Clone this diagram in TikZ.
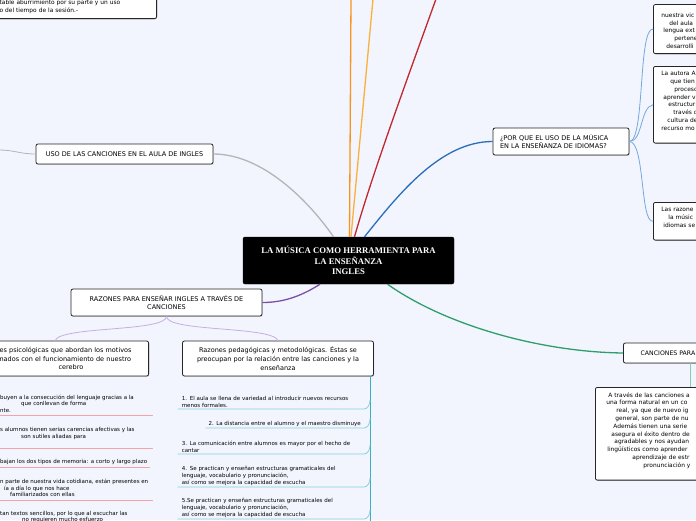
\documentclass[tikz,border=0pt]{standalone}
\usepackage{fontspec}
\setmainfont{DejaVu Sans}
\newfontfamily\titlefont{Liberation Serif}
\usetikzlibrary{positioning,shadows}

\definecolor{bgblue}{HTML}{F2F5FE}
\definecolor{lineorange}{HTML}{F7941D}
\definecolor{lineyellow}{HTML}{FBB03B}
\definecolor{linered}{HTML}{C1272D}
\definecolor{lineblue}{HTML}{2A6EBB}
\definecolor{branchblue}{HTML}{74A7DE}
\definecolor{linegray}{HTML}{B5B5B5}
\definecolor{linepurple}{HTML}{7B4FA6}
\definecolor{branchpurple}{HTML}{C7AEE0}
\definecolor{linegreen}{HTML}{2E9E6B}
\definecolor{branchgreen}{HTML}{86CDB0}
\definecolor{lineteal}{HTML}{3AAFBF}
\definecolor{branchteal}{HTML}{86D2DC}
\definecolor{linepink}{HTML}{F4A3A8}

\newcommand{\ind}[1]{\makebox[#1]{}}

\tikzset{
  root/.style={fill=black, draw=black, rounded corners=2pt, text=white, align=center,
    minimum width=211pt, minimum height=47pt,
    font=\titlefont\bfseries\fontsize{8.7}{10.5}\selectfont},
  topic/.style={draw=black!85, fill=white, rounded corners=2pt, line width=0.8pt,
    drop shadow={shadow xshift=0.6pt, shadow yshift=-0.8pt, opacity=0.35},
    font=\fontsize{6.5}{8.7}\selectfont, inner sep=3pt},
  note/.style={topic, align=left, inner ysep=5pt,
    font=\fontsize{5.9}{7.8}\selectfont},
  item/.style={font=\fontsize{5.5}{6.9}\selectfont, inner xsep=4pt, inner ysep=1.5pt, align=left},
  frag/.style={font=\fontsize{5.5}{6.9}\selectfont, anchor=base west, inner sep=0pt},
  trunk/.style={line width=1.3pt},
  twig/.style={line width=0.8pt},
}

\begin{document}
\begin{tikzpicture}[x=1pt,y=-1pt]
% fondo
\fill[bgblue] (0,0) rectangle (696,520);
\useasboundingbox (0,0) rectangle (696,520);

% nodo central
\node[root] (root) at (348.5,260.5) {LA MÚSICA COMO HERRAMIENTA PARA\\LA ENSEÑANZA\\INGLES};

% ramas
\node[topic, minimum width=177pt, minimum height=20pt] (uso) at (124.5,154)
  {USO DE LAS CANCIONES EN EL AULA DE INGLES};
\node[topic, align=left, text width=122pt, inner xsep=7pt, minimum height=27pt] (porque) at (561,141.5)
  {¿POR QUE EL USO DE LA MÚSICA\\EN LA ENSEÑANZA DE IDIOMAS?};
\node[topic, align=center, minimum width=191pt, minimum height=27pt] (razones) at (166.5,302.5)
  {RAZONES PARA ENSEÑAR INGLES A TRAVÉS DE\\CANCIONES};
\node[topic, anchor=west, inner xsep=7pt, minimum width=95pt, minimum height=20pt, align=left,
  font=\fontsize{6.2}{8.7}\selectfont] (canciones) at (623,353)
  {CANCIONES PARA E};

\node[topic, anchor=east, align=left, text width=145pt, inner xsep=4pt, minimum height=35pt] (psico) at (149,358.5)
  {es psicológicas que abordan los motivos\\nados con el funcionamiento de nuestro\\\ind{59pt}cerebro};
\node[topic, align=center, minimum width=191pt, minimum height=35pt] (pedago) at (278,358.5)
  {Razones pedagógicas y metodológicas. Éstas se\\preocupan por la relación entre las canciones y la\\enseñanza};

% notas cortadas
\node[note, anchor=south east, text width=153pt, inner xsep=4pt] (arriba) at (157,19)
  {\mbox{}\\table aburrimiento por su parte y un uso\\o del tiempo de la sesión.-};
\node[note, anchor=south west, text width=60pt, inner xsep=8pt] (nota1) at (653,54)
  {\mbox{}\\nuestra vic\\\ind{8pt}del aula\\\ind{2pt}lengua ext\\\ind{13pt}pertene\\\ind{5pt}desarrolli};
\node[note, anchor=north west, text width=60pt, inner xsep=8pt] (nota2) at (653,66)
  {La autora A\\\ind{9pt}que tien\\\ind{13pt}proceso\\\ind{2pt}aprender v\\\ind{7pt}estructur\\\ind{12pt}través d\\\ind{6pt}cultura de\\recurso mo\\\mbox{}};
\node[note, anchor=north west, text width=60pt, inner xsep=8pt] (nota3) at (653,202)
  {Las razone\\\ind{7pt}la músic\\\ind{2pt}idiomas se\\\mbox{}};
\node[note, anchor=north west, text width=100pt, inner xsep=11pt] (nota4) at (595,387)
  {\ind{2pt}A través de las canciones a\\una forma natural en un co\\\ind{10pt}real, ya que de nuevo ig\\\ind{9pt}general, son parte de nu\\\ind{7pt}Además tienen una serie\\\ind{5pt}asegura el éxito dentro de\\\ind{8pt}agradables y nos ayudan\\\ind{1pt}lingüísticos como aprender\\\ind{26pt}aprendizaje de estr\\\ind{37pt}pronunciación y\\\mbox{}};

% conectores del nodo central
\coordinate (finA) at (351,-1);
\coordinate (finB) at (373,-1);
\coordinate (finC) at (436,-1);
\coordinate (finD) at (-1,150);
\draw[lineorange, trunk] ([xshift=1pt]root.north) -- (finA);
\draw[lineyellow, trunk] ([xshift=2.5pt]root.north) -- (finB);
\draw[linered, trunk] ([xshift=6pt]root.north) .. controls (372,175) and (405,85) .. (finC);
\draw[lineblue, trunk] ([xshift=16pt]root.north) .. controls (398,195) and (440,141.5) .. (porque.west);
\draw[linegray, trunk] ([xshift=-15pt]root.north) .. controls (308,200) and (262,154) .. (uso.east);
\draw[linegray, twig] (uso.west) .. controls (20,154) and (14,150) .. (finD);
\draw[linepurple, trunk] ([xshift=-28.5pt]root.south) .. controls (300,297) and (282,302.5) .. (razones.east);
\draw[linegreen, trunk] ([xshift=39pt]root.south) .. controls (445,325) and (540,352) .. (canciones.west);

% ramas de segundo nivel
\draw[branchblue, twig] (porque.east) .. controls (645,141.5) and (638,28) .. (nota1.west);
\draw[branchblue, twig] (porque.east) .. controls (643,141.5) and (640,107) .. (nota2.west);
\draw[branchblue, twig] (porque.east) .. controls (645,141.5) and (640,223) .. (nota3.west);
\draw[branchgreen, twig] ([xshift=67pt]canciones.south west) -- ([xshift=95pt]nota4.north west);
\draw[branchpurple, twig] (razones.south) .. controls (166,332) and (60,326) .. ([xshift=-17pt]psico.north);
\draw[branchpurple, twig] (razones.south) .. controls (166,332) and (273,326) .. (pedago.north);

% razones pedagogicas
\coordinate (finE) at (370,521);
\draw[lineteal, twig] ([xshift=92pt]pedago.south) -- (finE);
\node[item, anchor=south east, text width=178pt] (r1) at (364,409)
  {1. El aula se llena de variedad al introducir nuevos recursos\\menos formales.};
\node[item, anchor=south east, inner xsep=3pt] (r2) at (364,428)
  {2. La distancia entre el alumno y el maestro disminuye};
\node[item, anchor=south east, text width=178pt] (r3) at (364,454)
  {3. La comunicación entre alumnos es mayor por el hecho de\\cantar};
\node[item, anchor=south east, text width=178pt] (r4) at (364,487)
  {4. Se practican y enseñan estructuras gramaticales del\\lenguaje, vocabulario y pronunciación,\\así como se mejora la capacidad de escucha};
\node[item, anchor=south east, text width=178pt] (r5) at (364,519)
  {5.Se practican y enseñan estructuras gramaticales del\\lenguaje, vocabulario y pronunciación,\\así como se mejora la capacidad de escucha};
\foreach \r in {r1,r2,r3,r4,r5}
  \draw[branchteal, twig] (\r.south west) -- (\r.south east) .. controls +(4,0) and +(0,4) .. +(6,-9);

% razones psicologicas
\node[frag] (q1) at (0,399) {buyen a la consecución del lenguaje gracias a la};
\node[frag] (q1b) at (21,405.5) {que conllevan de forma};
\node[frag] (q1c) at (0,412) {nte.};
\node[frag] (q2) at (0,431) {s alumnos tienen serias carencias afectivas y las};
\node[frag] (q2b) at (21,438) {son sutiles aliadas para};
\node[frag] (q3) at (0,463) {bajan los dos tipos de memoria: a corto y largo plazo};
\node[frag] (q4) at (0,483) {n parte de nuestra vida cotidiana, están presentes en};
\node[frag] (q4b) at (4,490) {ía a día lo que nos hace};
\node[frag] (q4c) at (10,496.5) {familiarizados con ellas};
\node[frag] (q5) at (0,515) {tan textos sencillos, por lo que al escuchar las};
\node[frag] (q5b) at (22,521.5) {no requieren mucho esfuerzo};
\draw[linepink, twig] (q1.base west) ++(0,16) -- ++(153,0);
\draw[linepink, twig] (q2.base west) ++(0,17) -- ++(153,0);
\draw[linepink, twig] (q3.base west) ++(0,4) -- ++(150,0);
\draw[linepink, twig] (q4.base west) ++(0,17) -- ++(153,0);
\end{tikzpicture}
\end{document}
